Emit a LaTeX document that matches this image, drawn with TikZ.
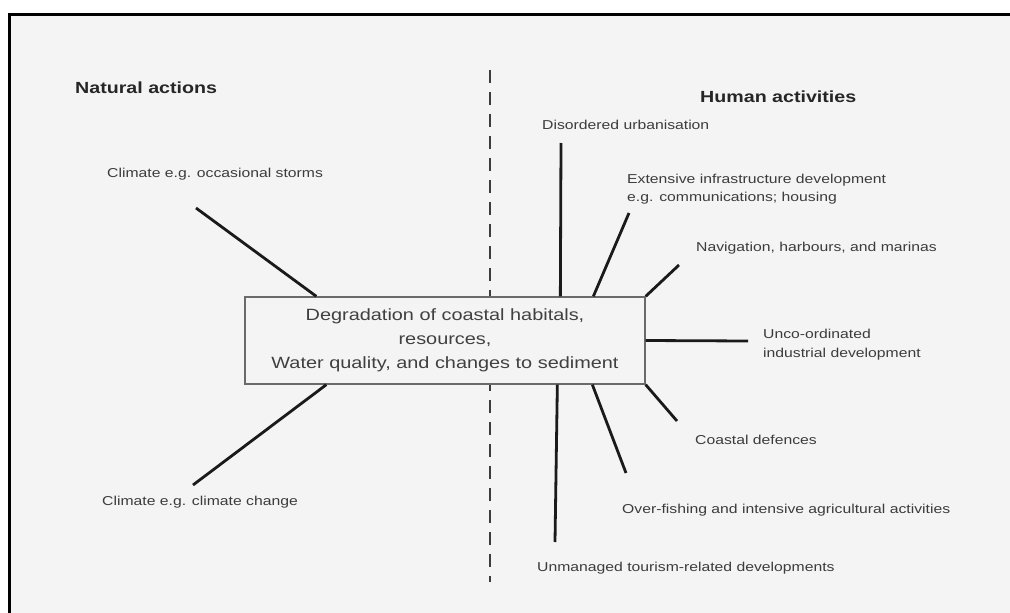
\documentclass[tikz,border=0pt]{standalone}
\usepackage{fontspec}
\setmainfont{Liberation Sans}[FakeStretch=1.22]
\definecolor{paper}{HTML}{F4F4F4}
\definecolor{labelgray}{HTML}{3C3C3C}
\definecolor{boxtext}{HTML}{404040}
\definecolor{headgray}{HTML}{262626}
\definecolor{boxgray}{HTML}{6A6A6A}
\definecolor{spokeblack}{HTML}{1A1A1A}
\begin{document}
\begin{tikzpicture}[x=1pt,y=-1pt,
  lbl/.style={anchor=west, inner sep=0pt, text=labelgray, align=left,
    font=\fontsize{12.9}{19}\selectfont},
  head/.style={anchor=west, inner sep=0pt, text=headgray,
    font=\bfseries\fontsize{16.1}{19}\selectfont},
  spoke/.style={draw=spokeblack, line width=2.8pt},
  centrebox/.style={draw=boxgray, line width=1.3pt, fill=paper,
    minimum width=400pt, minimum height=87pt, inner sep=0pt, align=center,
    text=boxtext, font=\fontsize{16.3}{24}\selectfont},
  divider/.style={draw=spokeblack!85, line width=2.6pt, dash pattern=on 13pt off 9pt},
  framerule/.style={draw=black, line width=3pt}]

% page and paper
\useasboundingbox (0,0) rectangle (1010,613);
\fill[white] (0,0) rectangle (1010,613);
\fill[paper] (9,14) rectangle (1010,613);
\draw[framerule] (9,613) -- (9,14) -- (1010,14);

% dividing line between the two groups of causes
\coordinate (divtop) at (490,70);
\coordinate (divbot) at (490,582);
\draw[divider] (divtop) -- (divbot);

% central effect
\node[centrebox] (effect) at (445,340.5)
  {Degradation of coastal habitals,\\ resources,\\ Water quality, and changes to sediment};

% group headings
\node[head] (natural) at (75,88) {Natural actions};
\node[head] (human) at (700,97) {Human activities};

% natural causes
\node[lbl] (storms) at (107,174) {Climate e.g. occasional storms};
\node[lbl] (climchange) at (102,502) {Climate e.g. climate change};

% human causes
\node[lbl] (urban) at (542,125) {Disordered urbanisation};
\node[lbl] (infra) at (627,189) {Extensive infrastructure development\\[-1pt] e.g. communications; housing};
\node[lbl] (navig) at (696,248) {Navigation, harbours, and marinas};
\node[lbl] (industry) at (763,345) {Unco-ordinated\\ industrial development};
\node[lbl] (defence) at (695,440) {Coastal defences};
\node[lbl] (fishing) at (622,510) {Over-fishing and intensive agricultural activities};
\node[lbl] (tourism) at (537,568) {Unmanaged tourism-related developments};

% free ends of the spokes
\coordinate (e-storms) at (196,208);
\coordinate (e-change) at (193,485);
\coordinate (e-urban) at (561,143);
\coordinate (e-infra) at (629,213);
\coordinate (e-navig) at (679,265);
\coordinate (e-industry) at (748,341);
\coordinate (e-defence) at (677,421);
\coordinate (e-fishing) at (626,473);
\coordinate (e-tourism) at (555,542);

% spokes joining each cause to the central box
\draw[spoke] (e-storms) -- ([xshift=72pt]effect.north west);
\draw[spoke] (e-change) -- ([xshift=82pt]effect.south west);
\draw[spoke] (e-urban) -- ([xshift=316pt]effect.north west);
\draw[spoke] (e-infra) -- ([xshift=349pt]effect.north west);
\draw[spoke] (e-navig) -- (effect.north east);
\draw[spoke] (e-industry) -- (effect.east);
\draw[spoke] (e-defence) -- (effect.south east);
\draw[spoke] (e-fishing) -- ([xshift=348pt]effect.south west);
\draw[spoke] (e-tourism) -- ([xshift=313pt]effect.south west);
\end{tikzpicture}
\end{document}
